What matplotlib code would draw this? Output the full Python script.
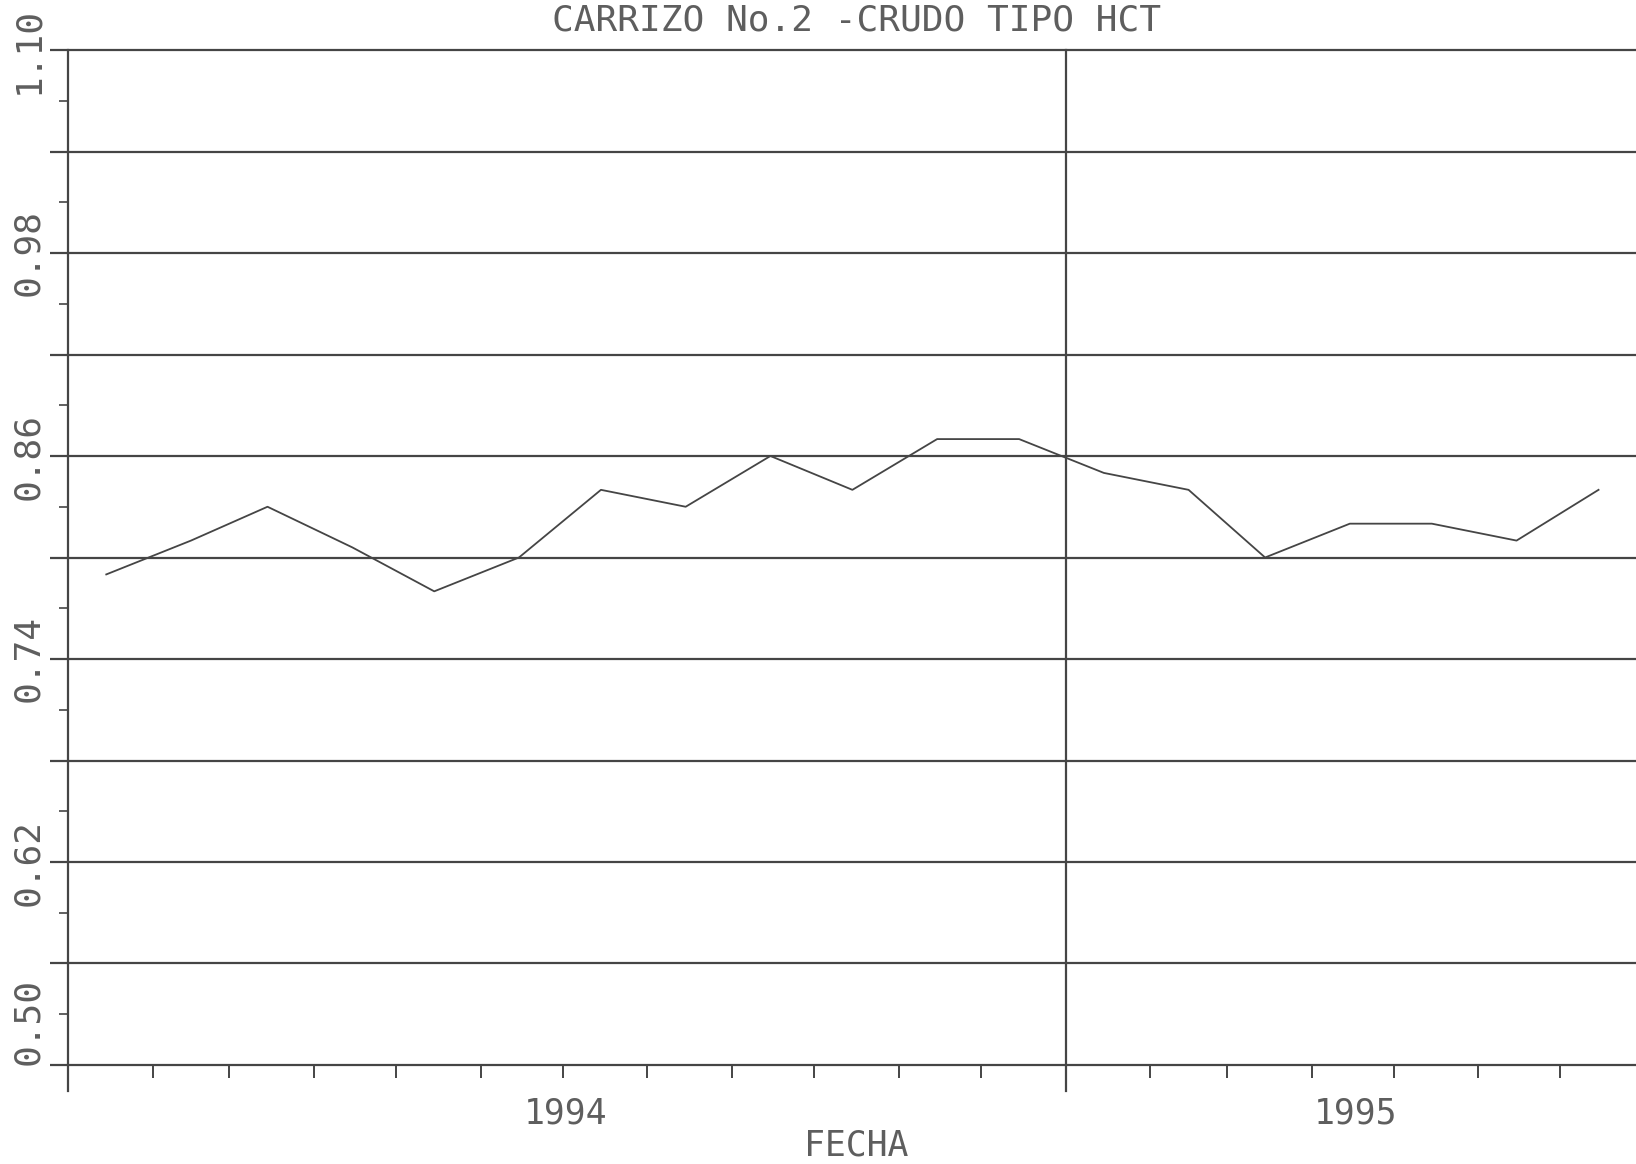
import matplotlib
matplotlib.use("Agg")
import matplotlib.pyplot as plt
import matplotlib.dates as mdates
import matplotlib.transforms as mtransforms
import numpy as np
from datetime import date

# muestras mensuales (dia 15 de cada mes)
meses = ["1994-01-15", "1994-02-15", "1994-03-15", "1994-04-15", "1994-05-15",
         "1994-06-15", "1994-07-15", "1994-08-15", "1994-09-15", "1994-10-15",
         "1994-11-15", "1994-12-15", "1995-01-15", "1995-02-15", "1995-03-15",
         "1995-04-15", "1995-05-15", "1995-06-15", "1995-07-15"]
densidad = [0.79, 0.81, 0.83, 0.806, 0.78,
            0.80, 0.84, 0.83, 0.86, 0.84,
            0.87, 0.87, 0.85, 0.84, 0.80,
            0.82, 0.82, 0.81, 0.84]

anios = [1994, 1995]
y_etiquetas = [0.50, 0.62, 0.74, 0.86, 0.98, 1.10]

titulo = "CARRIZO No.2 -CRUDO TIPO HCT"
xlabel = "FECHA"

GRIS = "#454545"
TEXTO = "#5e5e5e"
plt.rcParams["font.family"] = ["DejaVu Sans Mono"]

W, H = 1636, 1164
x0, x1, y0, y1 = 68, 1645, 50, 1065   # caja del grafico en pixeles

fig = plt.figure(figsize=(W / 100, H / 100), dpi=100)
ax = fig.add_axes([x0 / W, 1 - y1 / H, (x1 - x0) / W, (y1 - y0) / H])

fechas = [date.fromisoformat(m) for m in meses]
ax.plot(fechas, densidad, color=GRIS, lw=1.3, clip_on=False)

inicio, fin = date(1994, 1, 1), date(1995, 8, 1)
ax.set_xlim(inicio, fin)
ax.set_ylim(0.50, 1.10)

for s in ax.spines.values():
    s.set_visible(False)

# lineas horizontales cada 0.06
grid_vals = np.round(np.arange(0.50, 1.1001, 0.06), 2)
ax.hlines(grid_vals, 0, 1, transform=ax.get_yaxis_transform(),
          color=GRIS, lw=1.6, clip_on=False)
ax.set_yticks(grid_vals)
ax.set_yticks(np.round(grid_vals[:-1] + 0.03, 2), minor=True)
ax.tick_params(axis="y", which="major", direction="out", length=13,
               width=1.6, color=GRIS, labelleft=False)
ax.tick_params(axis="y", which="minor", direction="out", length=6.5,
               width=1.2, color=GRIS)

# ticks mensuales en x
ax.xaxis.set_major_locator(mdates.MonthLocator())
ax.tick_params(axis="x", which="major", direction="out", length=9.4,
               width=1.4, color=GRIS, labelbottom=False)

# eje vertical y division de anios
alto = y1 - y0
for d in [date(a, 1, 1) for a in anios]:
    ax.plot([d, d], [-26 / alto, 1], transform=ax.get_xaxis_transform(),
            color=GRIS, lw=1.6, clip_on=False)

# etiquetas del eje y (rotadas)
ytrans = mtransforms.offset_copy(ax.get_yaxis_transform(), fig=fig,
                                 x=-40, y=0, units="dots")
for v in y_etiquetas:
    ax.text(0, v, f"{v:.2f}", transform=ytrans, rotation=90,
            ha="center", va="bottom" if v == 0.50 else "center",
            fontsize=26, color=TEXTO)

# anios centrados en su tramo visible
xtrans = mtransforms.offset_copy(ax.get_xaxis_transform(), fig=fig,
                                 x=0, y=-49, units="dots")
for a in anios:
    a0 = max(date(a, 1, 1), inicio)
    a1 = min(date(a + 1, 1, 1), fin)
    centro = a0 + (a1 - a0) / 2
    ax.text(centro, 0, str(a), transform=xtrans, ha="center", va="center",
            fontsize=25, color=TEXTO)

ftrans = mtransforms.offset_copy(ax.transAxes, fig=fig, x=0, y=-81,
                                 units="dots")
ax.text(0.5, 0, xlabel, transform=ftrans, ha="center", va="center",
        fontsize=25, color=TEXTO)

ax.set_title(titulo, fontsize=26, color=TEXTO, pad=13.7)

fig.savefig("out.png", dpi=100)
